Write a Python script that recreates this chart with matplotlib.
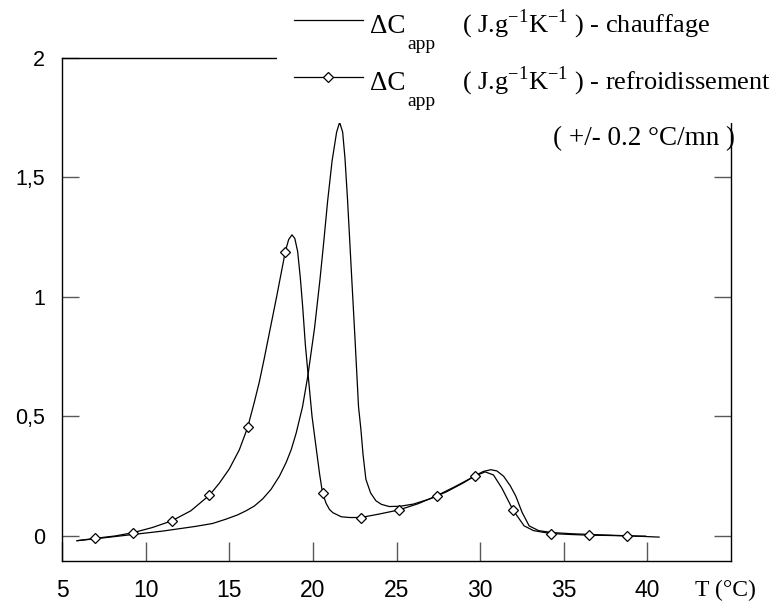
import matplotlib.pyplot as plt
from matplotlib.lines import Line2D
from matplotlib.patches import Rectangle

plt.rcParams['mathtext.fontset'] = 'custom'
plt.rcParams['mathtext.rm'] = 'Liberation Serif'

# heating curve (chauffage)
heat_T = [5.9, 7, 8, 9, 10, 11, 12, 13, 14, 14.8, 15.5, 16, 16.5, 17.0, 17.5, 18.0,
          18.4, 18.7, 19.0, 19.38, 19.7, 20.1, 20.42, 20.65, 20.88, 21.15, 21.42, 21.6,
          21.78, 21.92, 22.07, 22.2, 22.33, 22.5, 22.73, 22.87, 23.0, 23.17, 23.45,
          23.77, 24.1, 24.56, 25.2, 26, 27, 28, 29, 29.7, 30.2, 30.64, 31.0, 31.4,
          31.8, 32.13, 32.5, 32.93, 33.5, 34.3, 35.5, 37, 39, 40.7]
heat_C = [-0.02, -0.012, -0.004, 0.004, 0.012, 0.02, 0.03, 0.04, 0.052, 0.07, 0.088,
          0.105, 0.125, 0.155, 0.195, 0.25, 0.307, 0.36, 0.43, 0.54, 0.67, 0.87, 1.07,
          1.23, 1.40, 1.57, 1.69, 1.731, 1.69, 1.58, 1.41, 1.24, 1.07, 0.85, 0.54,
          0.447, 0.34, 0.237, 0.18, 0.147, 0.132, 0.123, 0.124, 0.133, 0.155, 0.185,
          0.222, 0.252, 0.27, 0.277, 0.272, 0.25, 0.21, 0.167, 0.1, 0.042, 0.022,
          0.014, 0.009, 0.005, 0.0, -0.005]

# cooling curve (refroidissement)
cool_T = [5.9, 7.0, 8.2, 9.27, 10.4, 11.56, 12.7, 13.81, 14.4, 15.0, 15.6, 16.1, 16.5,
          16.8, 17.1, 17.4, 17.83, 18.05, 18.35, 18.55, 18.75, 18.92, 19.09, 19.25,
          19.4, 19.55, 19.74, 19.95, 20.18, 20.4, 20.58, 20.8, 21.0, 21.2, 21.7, 22.2,
          22.87, 24.0, 25.16, 26.3, 27.41, 28.6, 29.7, 30.3, 30.8, 31.3, 31.97, 32.63,
          33.2, 34.22, 35.4, 36.49, 37.6, 38.76, 39.9]
cool_C = [-0.02, -0.01, 0.0, 0.014, 0.035, 0.063, 0.105, 0.17, 0.22, 0.28, 0.36,
          0.454, 0.56, 0.645, 0.745, 0.85, 1.0, 1.08, 1.189, 1.24, 1.26, 1.245, 1.19,
          1.08, 0.95, 0.8, 0.656, 0.5, 0.377, 0.26, 0.178, 0.135, 0.11, 0.097, 0.08,
          0.077, 0.077, 0.092, 0.109, 0.135, 0.168, 0.21, 0.251, 0.268, 0.255, 0.2,
          0.108, 0.042, 0.022, 0.01, 0.006, 0.003, 0.002, 0.0, -0.001]
cool_marker_T = [7.0, 9.27, 11.56, 13.81, 16.1, 18.35, 20.58, 22.87, 25.16, 27.41,
                 29.7, 31.97, 34.22, 36.49, 38.76]

x_ticks = [5, 10, 15, 20, 25, 30, 35, 40]
y_ticks = [0, 0.5, 1, 1.5, 2]
y_tick_labels = ["0", "0,5", "1", "1,5", "2"]

W, H = 784, 602


def px(x, y):
    # pixel position (from top-left) -> figure fraction
    return x / W, 1 - y / H


fig = plt.figure(figsize=(7.84, 6.02), dpi=100)
ax = fig.add_axes([62 / W, 1 - 561 / H, (731 - 62) / W, (561 - 58) / H])

ax.plot(heat_T, heat_C, color='black', lw=0.9)
marks = [cool_T.index(t) for t in cool_marker_T]
ax.plot(cool_T, cool_C, color='black', lw=0.9, marker='D', ms=5.5,
        mfc='white', mec='black', mew=0.9, markevery=marks)

ax.set_xlim(5, 45)
ax.set_ylim(-0.105, 2.0)
ax.set_xticks(x_ticks)
ax.set_yticks(y_ticks)
ax.set_yticklabels(y_tick_labels)
for lab in ax.get_xticklabels():
    lab.set_fontfamily('Liberation Sans')
    lab.set_fontsize(16.5)
for lab in ax.get_yticklabels():
    lab.set_fontfamily('Liberation Sans')
    lab.set_fontsize(15.5)
ax.tick_params(axis='x', direction='in', length=14, width=1, color='0.35', pad=13)
ax.tick_params(axis='y', direction='in', length=12, width=1, color='0.35', pad=12,
               right=True)
for s in ax.spines.values():
    s.set_linewidth(1.0)

fig.text(*px(695, 596), "T (°C)", family='Liberation Serif', fontsize=17,
         ha='left', va='baseline')

# white legend box covering the top-right part of the frame
x0, y0 = px(277, 123)
fig.add_artist(Rectangle((x0, y0), 1 - x0, 1 - y0, transform=fig.transFigure,
                         facecolor='white', edgecolor='none', zorder=3))

entries = [("chauffage", None), ("refroidissement", 'D')]
for i, (name, mk) in enumerate(entries):
    dy = 57 * i
    xs = [294 / W, 363 / W]
    yl = 1 - (19.5 + dy) / H
    fig.add_artist(Line2D(xs, [yl, yl], transform=fig.transFigure, color='black',
                          lw=0.9, zorder=4))
    if mk:
        fig.add_artist(Line2D([328 / W], [yl], transform=fig.transFigure, marker=mk,
                              ms=5.5, mfc='white', mec='black', mew=0.9, zorder=5))
    fig.text(*px(370, 33 + dy), "ΔC", family='Liberation Serif', fontsize=19.5,
             va='baseline', zorder=5)
    fig.text(*px(407, 49 + dy), "app", family='Liberation Serif', fontsize=14,
             va='baseline', zorder=5)
    fig.text(*px(462, 32 + dy), "( J.g$^{-1}$K$^{-1}$ ) - " + name,
             family='Liberation Serif', fontsize=19, va='baseline', zorder=5)

fig.text(*px(735, 145), "( +/- 0.2 °C/mn )", family='Liberation Serif',
         fontsize=19.5, ha='right', va='baseline', zorder=5)

fig.savefig("out.png", dpi=100)
